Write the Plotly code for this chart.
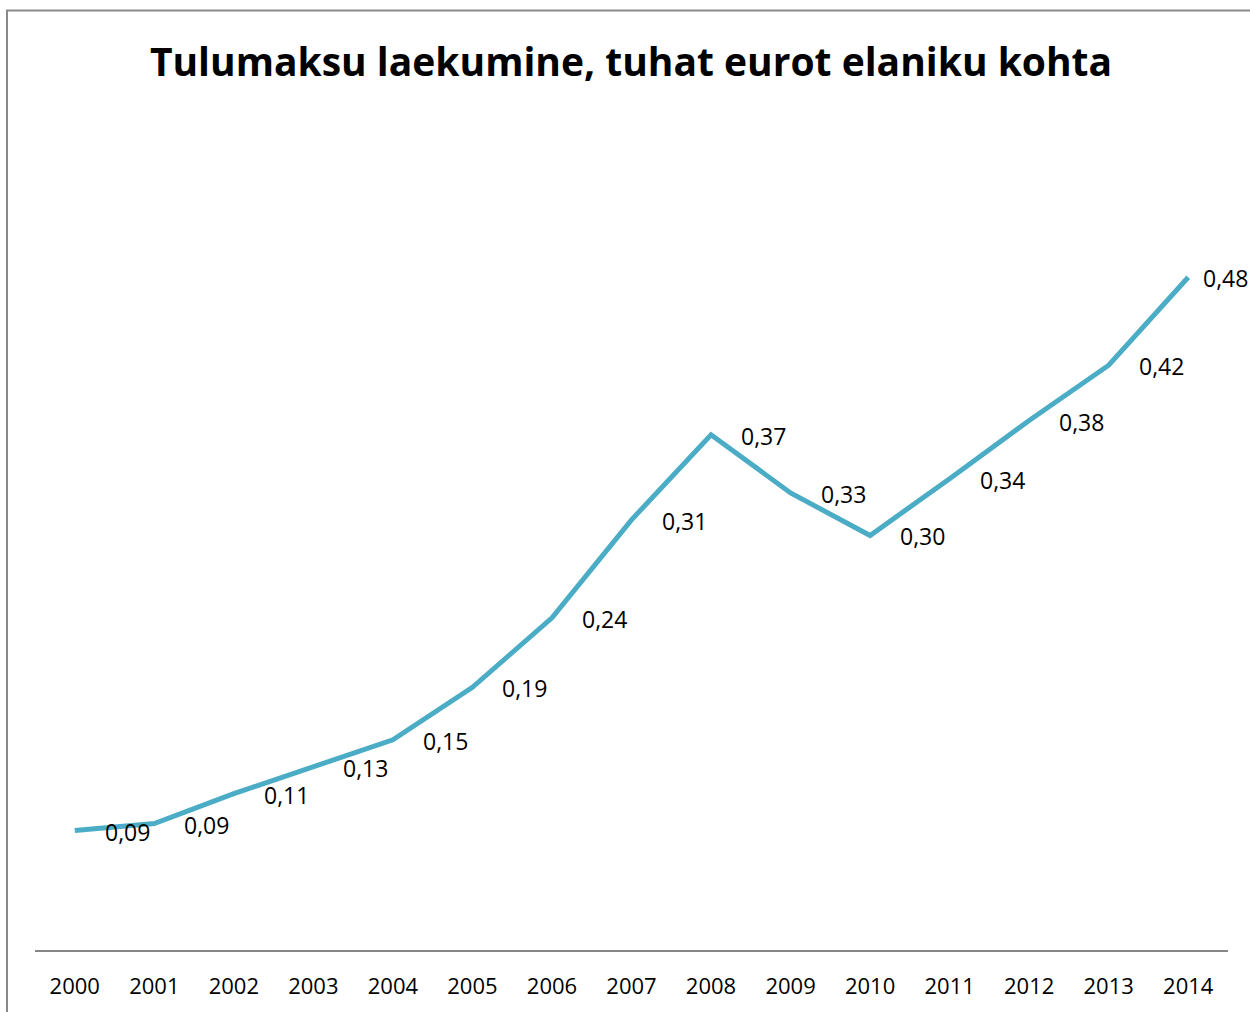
import plotly.graph_objects as go

years = ["2000", "2001", "2002", "2003", "2004", "2005", "2006", "2007",
         "2008", "2009", "2010", "2011", "2012", "2013", "2014"]
values = [0.088, 0.093, 0.114, 0.133, 0.152, 0.189, 0.238, 0.307,
          0.367, 0.326, 0.296, 0.336, 0.377, 0.416, 0.478]
title_text = "Tulumaksu laekumine, tuhat eurot elaniku kohta"

FONT = "Open Sans"
LINE_COLOR = "#4BACC6"

idx = list(range(len(years)))

fig = go.Figure()
fig.add_trace(go.Scatter(
    x=idx, y=values, mode="lines",
    line=dict(color=LINE_COLOR, width=5),
    hoverinfo="skip", showlegend=False,
))

annotations = []
for i, v in zip(idx, values):
    label = f"{v:.2f}".replace(".", ",")
    annotations.append(dict(
        x=i, y=v, xref="x", yref="y", text=label, showarrow=False,
        xanchor="left", yanchor="middle",
        xshift=13 if i == len(years) - 1 else 28, yshift=-1,
        font=dict(family=FONT, size=23, color="#000000"),
    ))

fig.update_layout(
    width=1250, height=1012,
    margin=dict(l=35, r=22, t=100, b=58),
    paper_bgcolor="white", plot_bgcolor="white",
    separators=", ",
    title=dict(text=f"<b>{title_text}</b>", x=631 / 1250, xanchor="center",
               y=1 - 62 / 1012, yanchor="middle", yref="container",
               font=dict(family=FONT, size=39, color="#000000")),
    annotations=annotations,
    shapes=[dict(type="rect", xref="paper", yref="paper",
                 x0=(7 - 35) / 1193, x1=1.05, y0=-0.2, y1=(954 - 10) / 854,
                 line=dict(color="#898989", width=2), layer="below")],
    xaxis=dict(range=[-0.5, 14.5], showgrid=False, tickmode="array",
               tickvals=idx, ticktext=years,
               showline=True, linecolor="#868686", linewidth=1.5,
               ticks="", ticklabelstandoff=16, zeroline=False,
               tickfont=dict(family=FONT, size=22, color="#000000")),
    yaxis=dict(range=[0.00386, 0.6029], visible=False, showgrid=False,
               zeroline=False),
)

fig.write_html("out.html", config={"displayModeBar": False},
               post_script="document.body.style.margin='0';document.body.style.overflow='hidden';")
